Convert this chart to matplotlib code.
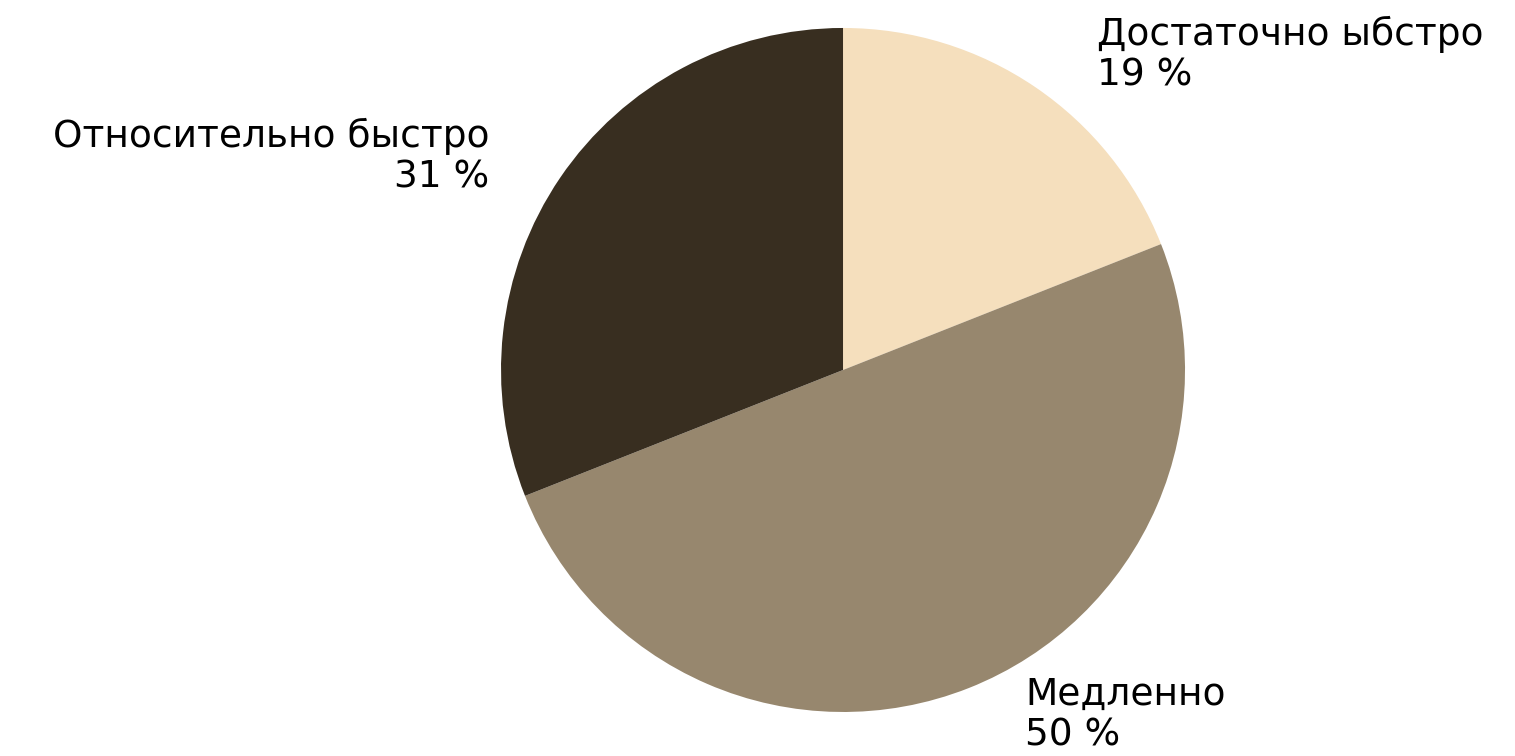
import matplotlib
matplotlib.use("Agg")
import matplotlib.pyplot as plt

labels = ["Достаточно ыбстро", "Медленно", "Относительно быстро"]
values = [19, 50, 31]
colors = ["#F5DFBD", "#97876E", "#382E20"]

# label anchor positions in pie units (radius = 1)
label_pos = [(0.743, 0.921, "left", "center"),
             (0.532, -1.12, "left", "bottom"),
             (-1.035, 0.623, "right", "center")]

fig = plt.figure(figsize=(15.15, 7.56), dpi=100)
ax = fig.add_axes([0.3307, 0.0582, 0.4515, 0.9048])

ax.pie(values, colors=colors, startangle=90, counterclock=False,
       wedgeprops={"linewidth": 0})

for lab, val, (x, y, ha, va) in zip(labels, values, label_pos):
    ax.text(x, y, f"{lab}\n{val} %", ha=ha, va=va, fontsize=27,
            family="DejaVu Sans", linespacing=1.15, clip_on=False,
            multialignment=ha)

ax.set_xlim(-1, 1)
ax.set_ylim(-1, 1)
ax.set_aspect("equal")
ax.axis("off")

fig.savefig("out.png", dpi=100)
